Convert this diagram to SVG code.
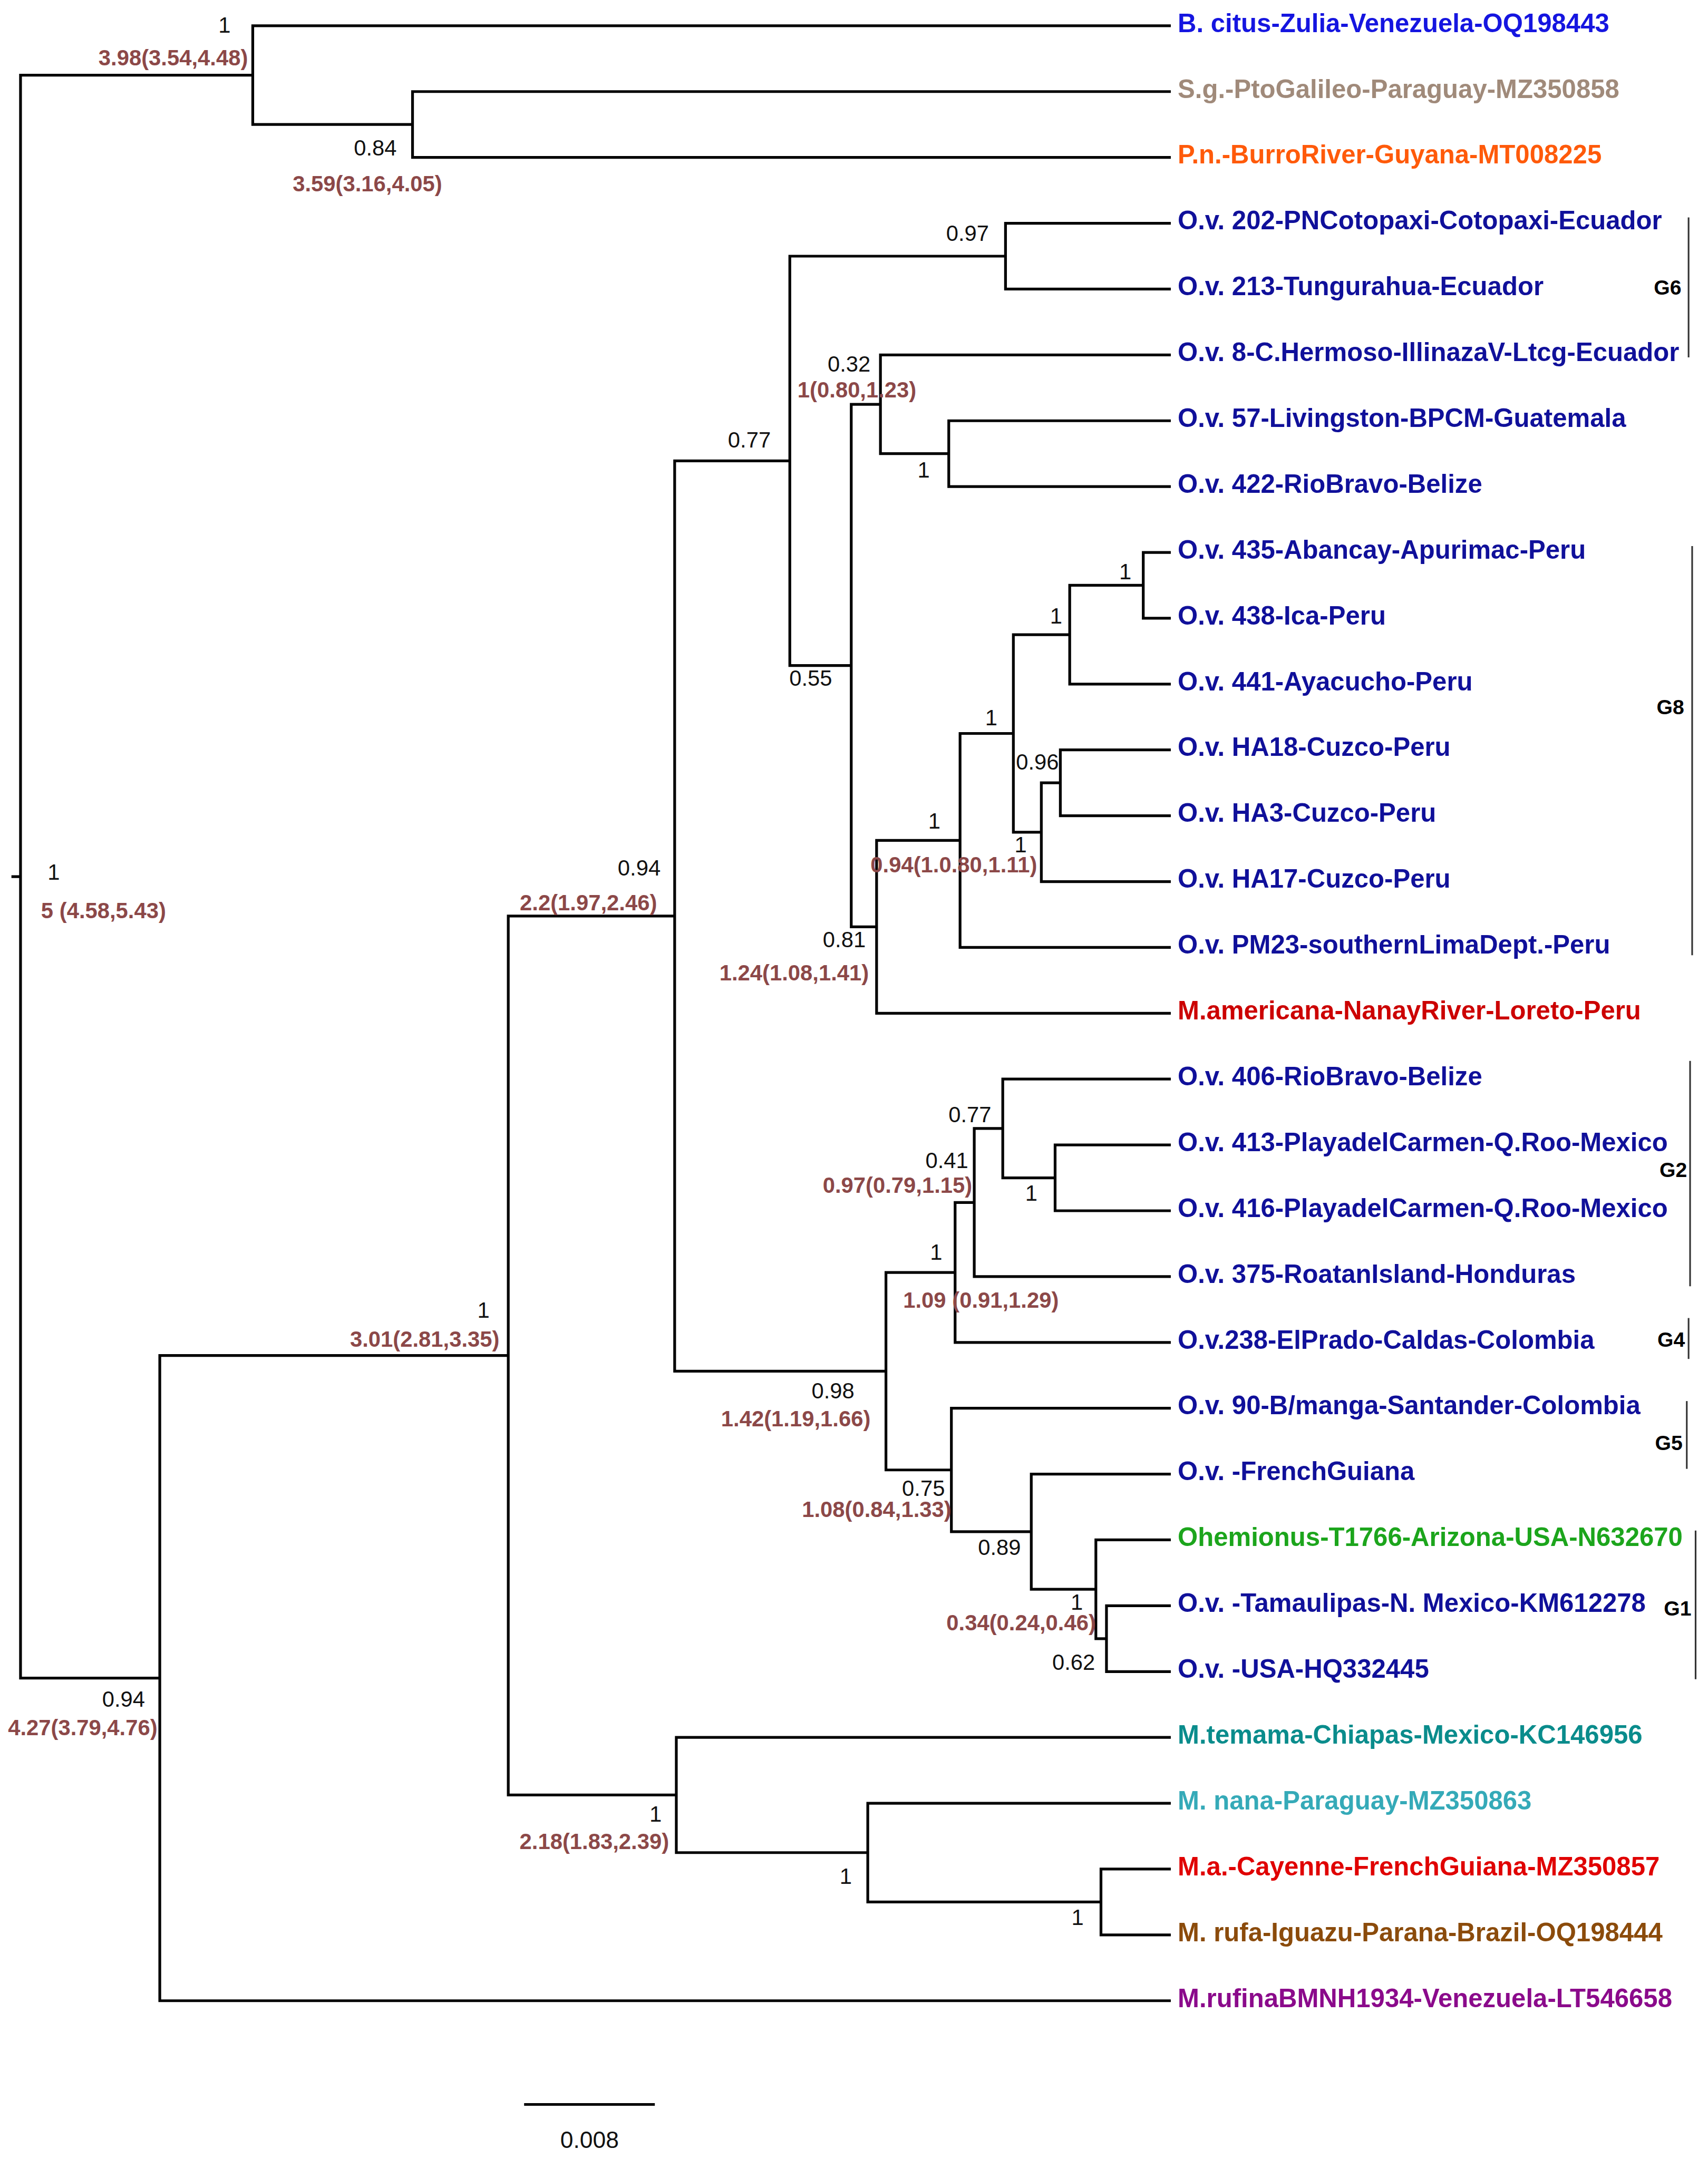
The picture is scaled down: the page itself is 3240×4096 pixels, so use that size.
<svg xmlns="http://www.w3.org/2000/svg" width="3240" height="4096" viewBox="0 0 3240 4096">
<style>
.br{fill:none;stroke:#000;stroke-width:2;stroke-linecap:square}
.gb{fill:none;stroke:#333;stroke-width:1.2}
.lf{font-family:"Liberation Sans",Arial,sans-serif;font-weight:bold;font-size:18.8px}
.sp{font-family:"Liberation Sans",Arial,sans-serif;font-size:16px;fill:#111}
.ag{font-family:"Liberation Sans",Arial,sans-serif;font-weight:bold;font-size:16px;fill:#8c4848}
.gl{font-family:"Liberation Sans",Arial,sans-serif;font-weight:bold;font-size:15px;fill:#000}
.e{text-anchor:end}
.m{text-anchor:middle}
.ov{fill:#10109a}
</style>
<rect width="3240" height="4096" fill="#fff"/>
<g transform="scale(2.6129)">
<g id="connectors" class="br">
<path d="M9.3,636.5 H14.9 M14.9,54.55 V1218.45 M14.9,54.55 H183.5 M183.5,18.7 V90.4 M183.5,90.4 H299.5 M299.5,66.5 V114.3
M183.5,18.7 H849 M299.5,66.5 H849 M299.5,114.3 H849
M14.9,1218.45 H116 M116,984.2 V1452.7 M116,1452.7 H849
M116,984.2 H369 M369,665.1 V1303.3 M369,665.1 H489.8 M489.8,334.6 V995.6
M489.8,334.6 H573.4 M573.4,186 V483.25 M573.4,186 H730 M730,162.1 V209.9 M730,162.1 H849 M730,209.9 H849
M573.4,483.25 H618 M618,293.55 V672.95 M618,293.55 H639.2 M639.2,257.7 V329.4 M639.2,257.7 H849
M639.2,329.4 H688.8 M688.8,305.5 V353.3 M688.8,305.5 H849 M688.8,353.3 H849
M618,672.95 H636.4 M636.4,610.2 V735.7 M636.4,735.7 H849
M636.4,610.2 H697 M697,532.55 V687.9 M697,687.9 H849
M697,532.55 H735.7 M735.7,460.85 V604.25
M735.7,460.85 H776.6 M776.6,425 V496.7 M776.6,496.7 H849
M776.6,425 H830 M830,401.1 V448.9 M830,401.1 H849 M830,448.9 H849
M735.7,604.25 H756 M756,568.4 V640.1 M756,640.1 H849
M756,568.4 H769.8 M769.8,544.5 V592.3 M769.8,544.5 H849 M769.8,592.3 H849
M489.8,995.6 H643.2 M643.2,923.9 V1067.3
M643.2,923.9 H693.4 M693.4,873.1 V974.7 M693.4,974.7 H849
M693.4,873.1 H707.3 M707.3,819.35 V926.9 M707.3,926.9 H849
M707.3,819.35 H728 M728,783.5 V855.2 M728,783.5 H849
M728,855.2 H766 M766,831.3 V879.1 M766,831.3 H849 M766,879.1 H849
M643.2,1067.3 H690.7 M690.7,1022.5 V1112.1 M690.7,1022.5 H849
M690.7,1112.1 H748.7 M748.7,1070.3 V1153.95 M748.7,1070.3 H849
M748.7,1153.95 H795.6 M795.6,1118.1 V1189.8 M795.6,1118.1 H849
M795.6,1189.8 H803.3 M803.3,1165.9 V1213.7 M803.3,1165.9 H849 M803.3,1213.7 H849
M369,1303.3 H491 M491,1261.5 V1345.15 M491,1261.5 H849
M491,1345.15 H630 M630,1309.3 V1381 M630,1309.3 H849
M630,1381 H799.3 M799.3,1357.1 V1404.9 M799.3,1357.1 H849 M799.3,1404.9 H849"/>
</g>
<g id="leaves" class="lf">
<g id="leaf1"><text x="855" y="23.2" fill="#1515e0">B. citus-Zulia-Venezuela-OQ198443</text></g>
<g id="leaf2"><text x="855" y="71" fill="#a08a7a">S.g.-PtoGalileo-Paraguay-MZ350858</text></g>
<g id="leaf3"><text x="855" y="118.8" fill="#ff5a0a">P.n.-BurroRiver-Guyana-MT008225</text></g>
<g id="leaf4"><text x="855" y="166.6" class="ov">O.v. 202-PNCotopaxi-Cotopaxi-Ecuador</text></g>
<g id="leaf5"><text x="855" y="214.4" class="ov">O.v. 213-Tungurahua-Ecuador</text></g>
<g id="leaf6"><text x="855" y="262.2" class="ov">O.v. 8-C.Hermoso-IllinazaV-Ltcg-Ecuador</text></g>
<g id="leaf7"><text x="855" y="310" class="ov">O.v. 57-Livingston-BPCM-Guatemala</text></g>
<g id="leaf8"><text x="855" y="357.8" class="ov">O.v. 422-RioBravo-Belize</text></g>
<g id="leaf9"><text x="855" y="405.6" class="ov">O.v. 435-Abancay-Apurimac-Peru</text></g>
<g id="leaf10"><text x="855" y="453.4" class="ov">O.v. 438-Ica-Peru</text></g>
<g id="leaf11"><text x="855" y="501.2" class="ov">O.v. 441-Ayacucho-Peru</text></g>
<g id="leaf12"><text x="855" y="549" class="ov">O.v. HA18-Cuzco-Peru</text></g>
<g id="leaf13"><text x="855" y="596.8" class="ov">O.v. HA3-Cuzco-Peru</text></g>
<g id="leaf14"><text x="855" y="644.6" class="ov">O.v. HA17-Cuzco-Peru</text></g>
<g id="leaf15"><text x="855" y="692.4" class="ov">O.v. PM23-southernLimaDept.-Peru</text></g>
<g id="leaf16"><text x="855" y="740.2" fill="#cc0000">M.americana-NanayRiver-Loreto-Peru</text></g>
<g id="leaf17"><text x="855" y="788" class="ov">O.v. 406-RioBravo-Belize</text></g>
<g id="leaf18"><text x="855" y="835.8" class="ov">O.v. 413-PlayadelCarmen-Q.Roo-Mexico</text></g>
<g id="leaf19"><text x="855" y="883.6" class="ov">O.v. 416-PlayadelCarmen-Q.Roo-Mexico</text></g>
<g id="leaf20"><text x="855" y="931.4" class="ov">O.v. 375-RoatanIsland-Honduras</text></g>
<g id="leaf21"><text x="855" y="979.2" class="ov">O.v.238-ElPrado-Caldas-Colombia</text></g>
<g id="leaf22"><text x="855" y="1027" class="ov">O.v. 90-B/manga-Santander-Colombia</text></g>
<g id="leaf23"><text x="855" y="1074.8" class="ov">O.v. -FrenchGuiana</text></g>
<g id="leaf24"><text x="855" y="1122.6" fill="#1ca51c">Ohemionus-T1766-Arizona-USA-N632670</text></g>
<g id="leaf25"><text x="855" y="1170.4" class="ov">O.v. -Tamaulipas-N. Mexico-KM612278</text></g>
<g id="leaf26"><text x="855" y="1218.2" class="ov">O.v. -USA-HQ332445</text></g>
<g id="leaf27"><text x="855" y="1266" fill="#0a8c8c">M.temama-Chiapas-Mexico-KC146956</text></g>
<g id="leaf28"><text x="855" y="1313.8" fill="#35aab8">M. nana-Paraguay-MZ350863</text></g>
<g id="leaf29"><text x="855" y="1361.6" fill="#e00000">M.a.-Cayenne-FrenchGuiana-MZ350857</text></g>
<g id="leaf30"><text x="855" y="1409.4" fill="#8b4b0b">M. rufa-Iguazu-Parana-Brazil-OQ198444</text></g>
<g id="leaf31"><text x="855" y="1457.2" fill="#8b0a8b">M.rufinaBMNH1934-Venezuela-LT546658</text></g>
</g>
<g id="internal-nodes">
<g id="n-root"><text class="sp m" x="39" y="638.7">1</text><text class="ag" x="29.8" y="666.8">5 (4.58,5.43)</text></g>
<g id="n-A"><text class="sp m" x="163" y="23.7">1</text><text class="ag e" x="180" y="47.5">3.98(3.54,4.48)</text></g>
<g id="n-B"><text class="sp e" x="288" y="113">0.84</text><text class="ag" x="212.5" y="139">3.59(3.16,4.05)</text></g>
<g id="n-202"><text class="sp e" x="718" y="175">0.97</text></g>
<g id="n-032"><text class="sp e" x="632" y="270">0.32</text><text class="ag" x="579" y="288.5">1(0.80,1.23)</text></g>
<g id="n-5788"><text class="sp m" x="670.6" y="346.7">1</text></g>
<g id="n-077b"><text class="sp e" x="559.6" y="325">0.77</text></g>
<g id="n-435"><text class="sp m" x="817" y="420.7">1</text></g>
<g id="n-441"><text class="sp m" x="766.7" y="452.7">1</text></g>
<g id="n-6"><text class="sp" x="573" y="498">0.55</text></g>
<g id="n-1a"><text class="sp m" x="719.7" y="526.7">1</text></g>
<g id="n-HA18"><text class="sp" x="737.6" y="558.7">0.96</text></g>
<g id="n-1b"><text class="sp m" x="678.3" y="601.7">1</text><text class="ag" x="632" y="633.5">0.94(1.0.80,1.11)</text></g>
<g id="n-HA17"><text class="sp m" x="741" y="619">1</text></g>
<g id="n-094"><text class="sp e" x="479.6" y="635.7">0.94</text><text class="ag e" x="477" y="660.8">2.2(1.97,2.46)</text></g>
<g id="n-081"><text class="sp e" x="628.5" y="687.8">0.81</text><text class="ag e" x="630.8" y="712">1.24(1.08,1.41)</text></g>
<g id="n-077c"><text class="sp e" x="719.7" y="815">0.77</text></g>
<g id="n-041"><text class="sp e" x="703" y="848">0.41</text><text class="ag e" x="705.8" y="866">0.97(0.79,1.15)</text></g>
<g id="n-413"><text class="sp m" x="748.7" y="871.7">1</text></g>
<g id="n-1c"><text class="sp m" x="679.7" y="914.7">1</text><text class="ag" x="655.7" y="949.6">1.09 (0.91,1.29)</text></g>
<g id="n-1e"><text class="sp m" x="351" y="956.7">1</text><text class="ag e" x="362.6" y="977.7">3.01(2.81,3.35)</text></g>
<g id="n-098"><text class="sp e" x="620.3" y="1015.3">0.98</text><text class="ag e" x="632" y="1035.7">1.42(1.19,1.66)</text></g>
<g id="n-075"><text class="sp e" x="686" y="1086">0.75</text><text class="ag e" x="690.7" y="1101.5">1.08(0.84,1.33)</text></g>
<g id="n-089"><text class="sp" x="710" y="1129">0.89</text></g>
<g id="n-1d"><text class="sp m" x="781.8" y="1168.7">1</text><text class="ag e" x="795.6" y="1183.8">0.34(0.24,0.46)</text></g>
<g id="n-062"><text class="sp e" x="795" y="1212.5">0.62</text></g>
<g id="n-116"><text class="sp e" x="105.3" y="1239.4">0.94</text><text class="ag e" x="114.3" y="1260">4.27(3.79,4.76)</text></g>
<g id="n-491"><text class="sp m" x="476" y="1322.7">1</text><text class="ag e" x="485.7" y="1342.6">2.18(1.83,2.39)</text></g>
<g id="n-630"><text class="sp m" x="614" y="1367.7">1</text></g>
<g id="n-rufa"><text class="sp m" x="782.3" y="1397.7">1</text></g>
</g>
<g id="groups">
<g id="G6"><path class="gb" d="M1225.9,157.9 V259.5"/><text class="gl e" x="1220.7" y="214">G6</text></g>
<g id="G8"><path class="gb" d="M1228.5,396.5 V693.6"/><text class="gl e" x="1222.7" y="518.5">G8</text></g>
<g id="G2"><path class="gb" d="M1227,770.3 V933.9"/><text class="gl e" x="1224.8" y="854.7">G2</text></g>
<g id="G4"><path class="gb" d="M1225.9,957 V986.7"/><text class="gl e" x="1223.3" y="977.7">G4</text></g>
<g id="G5"><path class="gb" d="M1224.6,1017.3 V1066.5"/><text class="gl e" x="1221.6" y="1052.8">G5</text></g>
<g id="G1"><path class="gb" d="M1231,1111.3 V1219.2"/><text class="gl e" x="1228" y="1173">G1</text></g>
</g>
<g id="scale-bar"><path class="br" d="M381.5,1528 H474.4"/><text class="sp m" x="428" y="1559.6" style="font-size:17px">0.008</text></g>
</g>
</svg>
